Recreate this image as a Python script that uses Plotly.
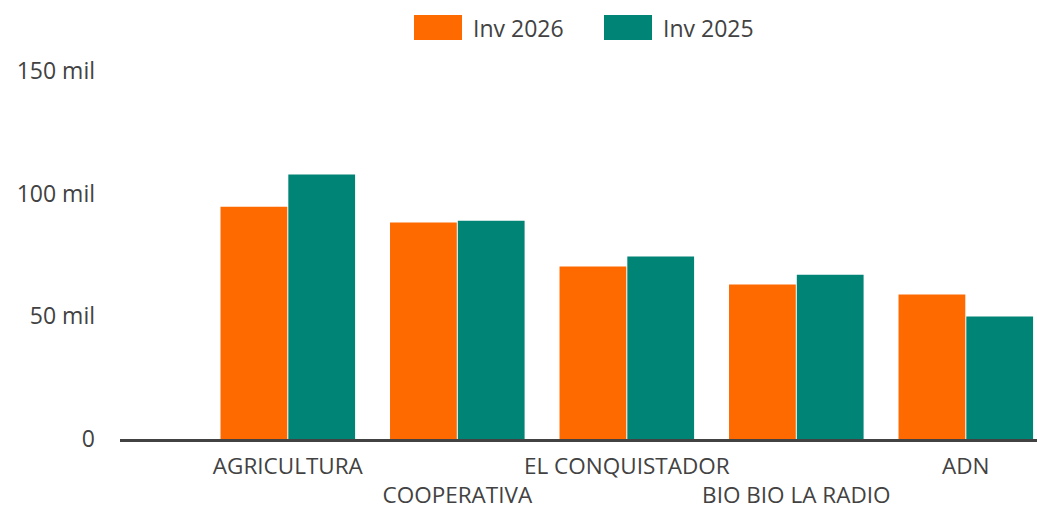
import plotly.graph_objects as go

categories = ["AGRICULTURA", "COOPERATIVA", "EL CONQUISTADOR", "BIO BIO LA RADIO", "ADN"]
inv_2026 = [94700, 88200, 70300, 63000, 58900]
inv_2025 = [107800, 89000, 74400, 67000, 49900]
series_names = ["Inv 2026", "Inv 2025"]
y_tick_vals = [0, 50000, 100000, 150000]
y_tick_text = ["0", "50 mil", "100 mil", "150 mil"]

ORANGE = "#FF6A00"
TEAL = "#008475"
TEXT = "#424242"
FONT = "Open Sans"

W, H = 1037, 509
L, T, PH = 120, 71, 368
PW = W - L
B = H - T - PH

x_tick_text = [c if i % 2 == 0 else "<br>" + c for i, c in enumerate(categories)]

fig = go.Figure()
fig.add_trace(go.Bar(x=categories, y=inv_2026, name=series_names[0],
                     marker=dict(color=ORANGE, line=dict(width=0)), showlegend=False))
fig.add_trace(go.Bar(x=categories, y=inv_2025, name=series_names[1],
                     marker=dict(color=TEAL, line=dict(width=0)), showlegend=False))

# legend drawn as swatches + text at top (screen px -> paper coords)
def px_x(p):
    return (p - L) / PW

def px_y(p):
    return (H - B - p) / PH

legend_items = [(series_names[0], ORANGE, 414), (series_names[1], TEAL, 604)]
for name, col, px in legend_items:
    fig.add_shape(type="rect", xref="paper", yref="paper",
                  x0=px_x(px), x1=px_x(px + 48),
                  y0=px_y(40), y1=px_y(15),
                  fillcolor=col, line=dict(width=0))
    fig.add_annotation(text=name, xref="paper", yref="paper",
                       x=px_x(px + 57), y=px_y(28),
                       xanchor="left", yanchor="middle", showarrow=False,
                       font=dict(family=FONT, size=23, color=TEXT))

fig.update_layout(
    width=W, height=H,
    margin=dict(l=L, r=0, t=T, b=B, autoexpand=False),
    paper_bgcolor="white", plot_bgcolor="white",
    barmode="group", bargap=0.2, bargroupgap=0.015,
    font=dict(family=FONT, size=23, color=TEXT),
    xaxis=dict(type="category", range=[-0.99, 4.42],
               tickmode="array", tickvals=categories, ticktext=x_tick_text,
               tickangle=0, automargin=False,
               showline=True, linecolor=TEXT, linewidth=2.5,
               showgrid=False, zeroline=False, ticks="",
               ticklabelstandoff=5,
               tickfont=dict(family=FONT, size=22.5, color=TEXT)),
    yaxis=dict(range=[0, 150000], tickmode="array",
               tickvals=y_tick_vals, ticktext=y_tick_text,
               automargin=False,
               showgrid=False, zeroline=False, showline=False, ticks="",
               ticklabelstandoff=24,
               tickfont=dict(family=FONT, size=23, color=TEXT)),
)

fig.write_html("out.html", config={"displayModeBar": False},
               post_script="document.body.style.margin='0';")
